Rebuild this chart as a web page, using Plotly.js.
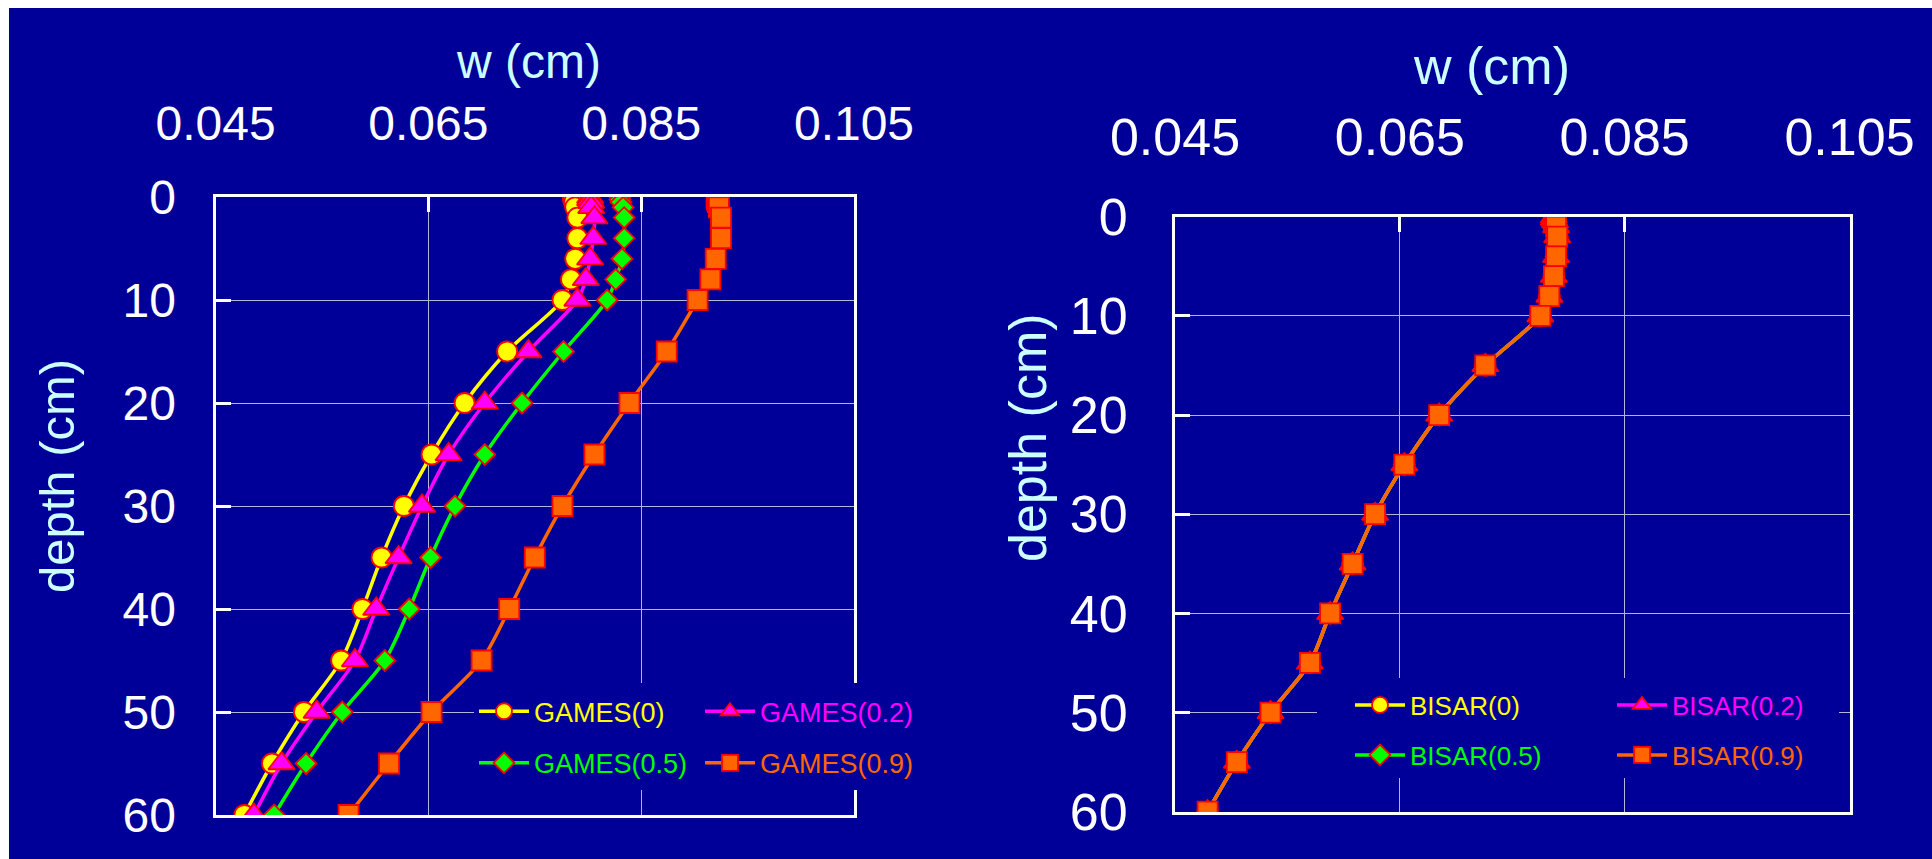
<!DOCTYPE html>
<html>
<head>
<meta charset="utf-8">
<script src="https://cdn.plot.ly/plotly-3.0.1.min.js"></script>
<style>
  html, body { margin: 0; padding: 0; background: #ffffff; }
  #chart { position: absolute; left: 9px; top: 8px; width: 1923px; height: 851px; }
</style>
</head>
<body>
<div id="chart"></div>
<script>
// Depth below the surface (cm)
const depth = [0, 0.25, 0.5, 1, 2, 4, 6, 8, 10, 15, 20, 25, 30, 35, 40, 45, 50, 55, 60];

// GAMES deflection w (cm) for interface slip values 0, 0.2, 0.5, 0.9
const games0  = [0.0786, 0.0786, 0.0787, 0.0788, 0.0790, 0.0790, 0.0788, 0.0784, 0.0776, 0.0724, 0.0684, 0.0653, 0.0627, 0.0606, 0.0588, 0.0568, 0.0533, 0.0503, 0.0477];
const games02 = [0.0802, 0.0802, 0.0803, 0.0803, 0.0806, 0.0805, 0.0802, 0.0798, 0.0790, 0.0744, 0.0703, 0.0669, 0.0644, 0.0622, 0.0601, 0.0581, 0.0545, 0.0512, 0.0486];
const games05 = [0.0830, 0.0830, 0.0831, 0.0833, 0.0834, 0.0834, 0.0832, 0.0826, 0.0818, 0.0777, 0.0738, 0.0703, 0.0675, 0.0652, 0.0632, 0.0609, 0.0569, 0.0535, 0.0505];
const games09 = [0.0921, 0.0921, 0.0922, 0.0923, 0.0925, 0.0925, 0.0920, 0.0915, 0.0903, 0.0874, 0.0839, 0.0806, 0.0776, 0.0750, 0.0726, 0.0700, 0.0653, 0.0613, 0.0575];

// BISAR deflection w (cm) for the same slip values
const bisar0  = [0.0787, 0.0787, 0.0788, 0.0789, 0.0790, 0.0789, 0.0787, 0.0783, 0.0775, 0.0726, 0.0685, 0.0654, 0.0628, 0.0608, 0.0588, 0.0570, 0.0535, 0.0505, 0.0479];
const bisar02 = [0.0787, 0.0787, 0.0788, 0.0789, 0.0790, 0.0789, 0.0787, 0.0783, 0.0775, 0.0726, 0.0685, 0.0654, 0.0628, 0.0608, 0.0588, 0.0570, 0.0535, 0.0505, 0.0479];
const bisar05 = [0.0787, 0.0787, 0.0788, 0.0789, 0.0790, 0.0789, 0.0787, 0.0783, 0.0775, 0.0726, 0.0685, 0.0654, 0.0628, 0.0608, 0.0588, 0.0570, 0.0535, 0.0505, 0.0479];
const bisar09 = [0.0787, 0.0787, 0.0788, 0.0789, 0.0790, 0.0789, 0.0787, 0.0783, 0.0775, 0.0726, 0.0685, 0.0654, 0.0628, 0.0608, 0.0588, 0.0570, 0.0535, 0.0505, 0.0479];

const slipLabels = ['0', '0.2', '0.5', '0.9'];
const xTicks = [0.045, 0.065, 0.085, 0.105];

const FONT = 'Arial, "Liberation Sans", Helvetica, sans-serif';
const BG = '#000099';
const TITLE_COLOR = '#ccffff';
const GRID = '#b4b4dc';
const OUTLINE = '#ff0000';

const styles = [
  { color: '#ffff00', symbol: 'circle',      size: 20 },
  { color: '#ff00ff', symbol: 'triangle-up', size: 23 },
  { color: '#00ff00', symbol: 'diamond',     size: 16 },
  { color: '#ff6600', symbol: 'square',      size: 20 }
];

function series(model, vals, i, xa, ya, legendId) {
  const s = styles[i];
  const label = model + '(' + slipLabels[i] + ')';
  return {
    type: 'scatter', mode: 'lines+markers',
    x: vals, y: depth, xaxis: xa, yaxis: ya,
    name: '<span style="color:' + s.color + '">' + label + '</span>',
    legend: legendId,
    line: { color: s.color, width: 3.5, shape: 'spline', smoothing: 0.8 },
    marker: { color: s.color, symbol: s.symbol, size: s.size, line: { color: OUTLINE, width: 1.8 } },
    hoverinfo: 'x+y'
  };
}

const data = [
  series('GAMES', games0,  0, 'x',  'y',  'legend'),
  series('GAMES', games02, 1, 'x',  'y',  'legend'),
  series('GAMES', games05, 2, 'x',  'y',  'legend2'),
  series('GAMES', games09, 3, 'x',  'y',  'legend2'),
  series('BISAR', bisar0,  0, 'x2', 'y2', 'legend3'),
  series('BISAR', bisar02, 1, 'x2', 'y2', 'legend3'),
  series('BISAR', bisar05, 2, 'x2', 'y2', 'legend4'),
  series('BISAR', bisar09, 3, 'x2', 'y2', 'legend4')
];

function xAxis(domain, anchor, fontSize, standoff) {
  return {
    domain: domain, anchor: anchor, side: 'top',
    range: [0.045, 0.105], tickmode: 'array', tickvals: xTicks,
    ticktext: xTicks.map(v => v.toFixed(3)),
    showgrid: true, gridcolor: GRID, gridwidth: 1, zeroline: false,
    showline: true, linecolor: '#ffffff', linewidth: 3, mirror: true,
    ticks: 'inside', ticklen: 15, tickwidth: 3, tickcolor: '#ffffff',
    tickfont: { family: FONT, size: fontSize, color: '#ffffff' },
    ticklabelstandoff: standoff, fixedrange: true
  };
}
function yAxis(domain, anchor, fontSize, standoff) {
  return {
    domain: domain, anchor: anchor,
    range: [60, 0], tick0: 0, dtick: 10,
    showgrid: true, gridcolor: GRID, gridwidth: 1, zeroline: false,
    showline: true, linecolor: '#ffffff', linewidth: 3, mirror: true,
    ticks: 'inside', ticklen: 15, tickwidth: 3, tickcolor: '#ffffff',
    tickfont: { family: FONT, size: fontSize, color: '#ffffff' },
    ticklabelstandoff: standoff, fixedrange: true
  };
}

function legendRow(x, y, size, entry) {
  return {
    x: x, y: y, xanchor: 'left', yanchor: 'middle', xref: 'paper', yref: 'paper',
    orientation: 'h', bgcolor: 'rgba(0,0,0,0)', borderwidth: 0,
    font: { family: FONT, size: size, color: '#ffffff' },
    itemwidth: 50, entrywidth: entry, entrywidthmode: 'pixels',
    itemclick: false, itemdoubleclick: false
  };
}

const W = 1923, H = 851;
const px = v => v / W;
const py = v => 1 - v / H;

const layout = {
  width: W, height: H,
  paper_bgcolor: BG, plot_bgcolor: BG,
  margin: { l: 0, r: 0, t: 0, b: 0 },
  showlegend: true,
  xaxis:  xAxis([px(206.6), px(845)], 'y', 48, 35),
  yaxis:  yAxis([py(807), py(189)], 'x', 48, 27),
  xaxis2: xAxis([px(1166), px(1840.5)], 'y2', 52, 38),
  yaxis2: yAxis([py(803.7), py(208.7)], 'x2', 52, 34),
  legend:  legendRow(px(465), py(703.7), 27, 161),
  legend2: legendRow(px(465), py(755.3), 27, 161),
  legend3: legendRow(px(1341), py(697), 26, 197),
  legend4: legendRow(px(1341), py(747), 26, 197),
  shapes: [
    { type: 'rect', xref: 'paper', yref: 'paper', layer: 'above',
      x0: px(465), x1: px(925), y0: py(782), y1: py(675),
      fillcolor: BG, line: { width: 0 } },
    { type: 'rect', xref: 'paper', yref: 'paper', layer: 'above',
      x0: px(1308), x1: px(1830), y0: py(770), y1: py(670),
      fillcolor: BG, line: { width: 0 } }
  ],
  annotations: [
    { text: 'w (cm)', xref: 'paper', yref: 'paper', x: px(519), y: py(53),
      xanchor: 'center', yanchor: 'middle', showarrow: false,
      font: { family: FONT, size: 48, color: TITLE_COLOR } },
    { text: 'depth (cm)', xref: 'paper', yref: 'paper', x: px(48), y: py(468),
      xanchor: 'center', yanchor: 'middle', showarrow: false, textangle: -90,
      font: { family: FONT, size: 49, color: TITLE_COLOR } },
    { text: 'w (cm)', xref: 'paper', yref: 'paper', x: px(1482), y: py(58),
      xanchor: 'center', yanchor: 'middle', showarrow: false,
      font: { family: FONT, size: 52, color: TITLE_COLOR } },
    { text: 'depth (cm)', xref: 'paper', yref: 'paper', x: px(1019), y: py(430),
      xanchor: 'center', yanchor: 'middle', showarrow: false, textangle: -90,
      font: { family: FONT, size: 52, color: TITLE_COLOR } }
  ]
};

Plotly.newPlot('chart', data, layout, { displayModeBar: false, staticPlot: true });
</script>
</body>
</html>
